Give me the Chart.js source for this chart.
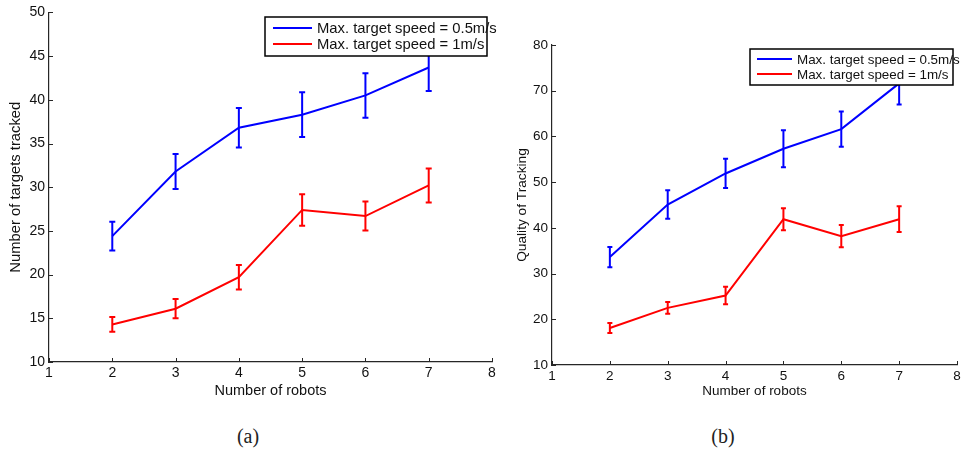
<!DOCTYPE html>
<html>
<head>
<meta charset="utf-8">
<script src="https://cdn.jsdelivr.net/npm/chart.js@4/dist/chart.umd.min.js"></script>
<style>
  html, body { margin: 0; padding: 0; background: #fff; }
  body { width: 966px; height: 456px; position: relative; overflow: hidden; }
  canvas { position: absolute; top: 0; }
  #chartA { left: 0; }
  #chartB { left: 495px; }
  .caption {
    position: absolute; top: 425px; width: 60px; text-align: center;
    font-family: "Liberation Serif", "DejaVu Serif", serif; font-size: 20px; color: #222;
  }
</style>
</head>
<body>
<canvas id="chartA" width="500" height="405"></canvas>
<canvas id="chartB" width="471" height="405"></canvas>
<div class="caption" style="left:218px">(a)</div>
<div class="caption" style="left:693px">(b)</div>
<script>
// number of robots on the x axis
const robots = [2, 3, 4, 5, 6, 7];

// (a) number of targets tracked, mean and error half-width
const targetsSlow = [24.4, 31.8, 36.8, 38.3, 40.5, 43.7];
const targetsSlowErr = [1.65, 2.0, 2.25, 2.55, 2.55, 2.7];
const targetsFast = [14.3, 16.1, 19.7, 27.4, 26.7, 30.2];
const targetsFastErr = [0.85, 1.1, 1.4, 1.8, 1.65, 1.95];

// (b) quality of tracking
const qualitySlow = [33.6, 45.1, 51.9, 57.3, 61.6, 71.6];
const qualitySlowErr = [2.2, 3.1, 3.2, 4.05, 3.85, 4.6];
const qualityFast = [18.1, 22.5, 25.2, 41.9, 38.2, 41.9];
const qualityFastErr = [1.1, 1.3, 1.9, 2.4, 2.45, 2.8];

const labelSlow = "Max. target speed = 0.5m/s";
const labelFast = "Max. target speed = 1m/s";

const BLUE = "#0000ff";
const RED = "#ff0000";
const AXIS = "#262626";
const FONT = "'Liberation Sans', Arial, sans-serif";

function points(ys) {
  return robots.map((x, i) => ({ x: x, y: ys[i] }));
}

// vertical error bars with caps, positioned through the chart scales
const errorBars = {
  id: "errorBars",
  afterDatasetsDraw(chart, args, opts) {
    const { ctx, scales: { x, y } } = chart;
    ctx.save();
    ctx.lineWidth = 2;
    chart.data.datasets.forEach(ds => {
      ctx.strokeStyle = ds.borderColor;
      ds.data.forEach((p, i) => {
        const e = ds.errors[i];
        const px = x.getPixelForValue(p.x);
        const top = y.getPixelForValue(p.y + e);
        const bot = y.getPixelForValue(p.y - e);
        ctx.beginPath();
        ctx.moveTo(px, top); ctx.lineTo(px, bot);
        ctx.moveTo(px - opts.cap, top); ctx.lineTo(px + opts.cap, top);
        ctx.moveTo(px - opts.cap, bot); ctx.lineTo(px + opts.cap, bot);
        ctx.stroke();
      });
    });
    ctx.restore();
  }
};

// MATLAB-style inward tick marks
const innerTicks = {
  id: "innerTicks",
  afterDraw(chart) {
    const { ctx, chartArea: a, scales: { x, y } } = chart;
    ctx.save();
    ctx.strokeStyle = AXIS;
    ctx.lineWidth = 1;
    ctx.beginPath();
    x.ticks.forEach(t => {
      const px = Math.round(x.getPixelForValue(t.value)) + 0.5;
      ctx.moveTo(px, a.bottom); ctx.lineTo(px, a.bottom - 4);
    });
    y.ticks.forEach(t => {
      const py = Math.round(y.getPixelForValue(t.value)) + 0.5;
      ctx.moveTo(a.left, py); ctx.lineTo(a.left + 4, py);
    });
    ctx.stroke();
    ctx.restore();
  }
};

// boxed legend inside the axes, text allowed to run past the frame
const boxLegend = {
  id: "boxLegend",
  afterDraw(chart, args, o) {
    const ctx = chart.ctx;
    ctx.save();
    ctx.fillStyle = "#fff";
    ctx.fillRect(o.x, o.y, o.w, o.h);
    ctx.strokeStyle = "#000";
    ctx.lineWidth = 1.5;
    ctx.strokeRect(o.x, o.y, o.w, o.h);
    ctx.font = o.size + "px " + FONT;
    ctx.textBaseline = "middle";
    chart.data.datasets.forEach((ds, i) => {
      const ly = o.y + o.first + i * o.step;
      ctx.strokeStyle = ds.borderColor;
      ctx.lineWidth = 2;
      ctx.beginPath();
      ctx.moveTo(o.x + o.lineStart, ly);
      ctx.lineTo(o.x + o.lineStart + o.lineLen, ly);
      ctx.stroke();
      ctx.fillStyle = "#111";
      ctx.fillText(ds.label, o.x + o.textStart, ly + 1);
    });
    ctx.restore();
  }
};

function makeChart(id, cfg) {
  return new Chart(document.getElementById(id), {
    type: "line",
    data: {
      datasets: [
        { label: labelSlow, data: points(cfg.slow), errors: cfg.slowErr, borderColor: BLUE, borderWidth: 2, pointRadius: 0, tension: 0 },
        { label: labelFast, data: points(cfg.fast), errors: cfg.fastErr, borderColor: RED, borderWidth: 2, pointRadius: 0, tension: 0 }
      ]
    },
    options: {
      responsive: false,
      animation: false,
      events: [],
      layout: { padding: cfg.padding },
      plugins: {
        legend: { display: false },
        tooltip: { enabled: false },
        errorBars: { cap: cfg.cap },
        boxLegend: cfg.legend
      },
      scales: {
        x: {
          type: "linear", min: 1, max: 8,
          ticks: { stepSize: 1, color: "#111", font: { family: FONT, size: cfg.tickSize }, padding: cfg.xTickPad },
          grid: { drawOnChartArea: false, drawTicks: false },
          border: { color: AXIS, width: 1.2 },
          title: { display: true, text: "Number of robots", color: "#111", font: { family: FONT, size: cfg.titleSize }, padding: { top: 0, bottom: cfg.xTitlePad } },
          afterFit(s) { s.height = cfg.xHeight; }
        },
        y: {
          type: "linear", min: cfg.yMin, max: cfg.yMax,
          ticks: { stepSize: cfg.yStep, color: "#111", font: { family: FONT, size: cfg.tickSize }, padding: 4 },
          grid: { drawOnChartArea: false, drawTicks: false },
          border: { color: AXIS, width: 1.2 },
          title: { display: true, text: cfg.yTitle, color: "#111", font: { family: FONT, size: cfg.yTitleSize }, padding: { top: cfg.yTitlePad, bottom: 0 } },
          afterFit(s) { s.width = cfg.yWidth; }
        }
      }
    },
    plugins: [errorBars, innerTicks, boxLegend]
  });
}

makeChart("chartA", {
  slow: targetsSlow, slowErr: targetsSlowErr,
  fast: targetsFast, fastErr: targetsFastErr,
  yMin: 10, yMax: 50, yStep: 5, yTitle: "Number of targets tracked",
  tickSize: 14, titleSize: 14.5, yTitleSize: 14.8, cap: 3, xTickPad: 3,
  padding: { left: 0, top: 12, right: 8, bottom: 0 },
  yWidth: 49, xHeight: 43, xTitlePad: 5, yTitlePad: 7,
  legend: { x: 265, y: 17, w: 222, h: 39, first: 11, step: 16, lineStart: 8, lineLen: 39, textStart: 52, size: 14.8 }
});

makeChart("chartB", {
  slow: qualitySlow, slowErr: qualitySlowErr,
  fast: qualityFast, fastErr: qualityFastErr,
  yMin: 10, yMax: 80, yStep: 10, yTitle: "Quality of Tracking",
  tickSize: 13.5, titleSize: 13.5, yTitleSize: 13.7, cap: 2.5, xTickPad: 3,
  padding: { left: 0, top: 45, right: 9, bottom: 0 },
  yWidth: 57, xHeight: 40, xTitlePad: 6, yTitlePad: 19,
  legend: { x: 255, y: 49, w: 203, h: 36, first: 10, step: 15, lineStart: 7, lineLen: 35, textStart: 47, size: 13.4 }
});
</script>
</body>
</html>
